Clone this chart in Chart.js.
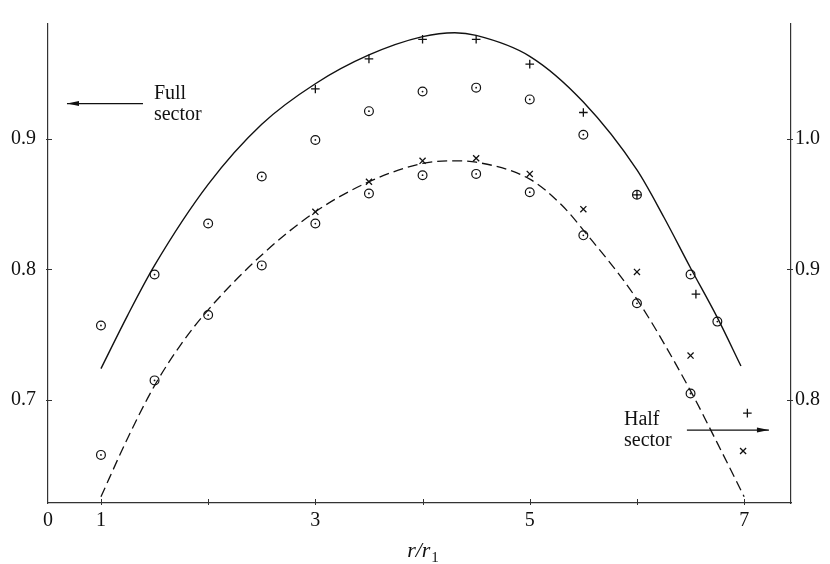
<!DOCTYPE html>
<html>
<head>
<meta charset="utf-8">
<script src="https://cdn.jsdelivr.net/npm/chart.js@4.4.1/dist/chart.umd.min.js"></script>
<style>
  html, body { margin: 0; padding: 0; background: #fff; }
  #wrap { width: 830px; height: 564px; }
</style>
</head>
<body>
<div id="wrap"><canvas id="c" width="830" height="564"></canvas></div>
<script>
// ── Data ───────────────────────────────────────────────────
// full sector, left axis
const fullR      = [1, 1.5, 2, 2.5, 3, 3.5, 4, 4.5, 5, 5.5, 6, 6.5, 6.75];
const fullCirc   = [0.757, 0.796, 0.835, 0.871, 0.899, 0.921, 0.936, 0.939, 0.930, 0.903, 0.857, 0.796, 0.760];
const plusR      = [3, 3.5, 4, 4.5, 5, 5.5, 6, 6.55, 7.03];
const plusVal    = [0.938, 0.961, 0.976, 0.976, 0.957, 0.920, 0.857, 0.781, 0.690];
const fullCurveR = [1, 1.25, 1.5, 2, 2.5, 3, 3.5, 4, 4.3, 4.5, 5, 5.5, 6, 6.25, 6.5, 6.75, 6.97];
const fullCurve  = [0.724, 0.765, 0.803, 0.865, 0.911, 0.942, 0.964, 0.978, 0.981, 0.979, 0.963, 0.928, 0.876, 0.840, 0.801, 0.763, 0.726];

// half sector, right axis
const halfR      = [1, 1.5, 2, 2.5, 3, 3.5, 4, 4.5, 5, 5.5, 6, 6.5];
const halfCirc   = [0.758, 0.815, 0.865, 0.903, 0.935, 0.958, 0.972, 0.973, 0.959, 0.926, 0.874, 0.805];
const crossR     = [3, 3.5, 4, 4.5, 5, 5.5, 6, 6.5, 6.99];
const crossVal   = [0.944, 0.967, 0.983, 0.985, 0.973, 0.946, 0.898, 0.834, 0.761];
const halfCurveR = [1, 1.25, 1.5, 1.75, 2, 2.5, 3, 3.5, 4, 4.3, 4.5, 5, 5.3, 5.5, 6, 6.5, 6.75, 7];
const halfCurve  = [0.726, 0.771, 0.811, 0.843, 0.869, 0.911, 0.944, 0.967, 0.981, 0.983, 0.982, 0.969, 0.949, 0.930, 0.877, 0.807, 0.767, 0.726];

// axes
const xMin = 0.506, xMax = 7.437;
const xTickVals   = [xMin, 1, 2, 3, 4, 5, 6, 7];
const xTickLabels = ['0', '1', '', '3', '', '5', '', '7'];
const leftTicks   = [0.7, 0.8, 0.9];
const rightTicks  = [0.8, 0.9, 1.0];
const yMin = 0.6212, yMax = 0.9877;
const y2Min = 0.7212, y2Max = 1.0877;

// ── Helpers ────────────────────────────────────────────────
const pts = (xs, ys) => xs.map((x, i) => ({ x, y: ys[i] }));
const INK = '#111';
const AXIS = '#333';
const FONT = '"Liberation Serif", "DejaVu Serif", serif';

// centre dot for the ⊙ markers
const centreDots = {
  id: 'centreDots',
  afterDatasetsDraw(chart) {
    const ctx = chart.ctx;
    ctx.save();
    ctx.fillStyle = INK;
    chart.data.datasets.forEach((ds, i) => {
      if (!ds.dotted) return;
      chart.getDatasetMeta(i).data.forEach(el => {
        ctx.beginPath(); ctx.arc(el.x, el.y, 0.9, 0, Math.PI * 2); ctx.fill();
      });
    });
    ctx.restore();
  }
};

// ticks crossing the axis lines, labels, title
const extras = {
  id: 'extras',
  afterDraw(chart) {
    const { ctx, chartArea: a, scales: { x, y, y2 } } = chart;
    ctx.save();
    ctx.strokeStyle = AXIS; ctx.lineWidth = 1;
    const seg = (x1, y1, x2, y2_) => { ctx.beginPath(); ctx.moveTo(x1, y1); ctx.lineTo(x2, y2_); ctx.stroke(); };
    xTickVals.slice(1).forEach(v => {
      const px = Math.round(x.getPixelForValue(v)) + 0.5;
      seg(px, a.bottom - 4, px, a.bottom + 2);
    });
    leftTicks.forEach(v => {
      const py = Math.round(y.getPixelForValue(v)) + 0.5;
      seg(a.left - 2, py, a.left + 4, py);
    });
    rightTicks.forEach(v => {
      const py = Math.round(y2.getPixelForValue(v)) + 0.5;
      seg(a.right - 4, py, a.right + 2, py);
    });

    // annotations
    ctx.fillStyle = INK;
    ctx.font = '20px ' + FONT;
    ctx.textBaseline = 'middle';
    ctx.textAlign = 'left';
    ctx.fillText('Full', x.getPixelForValue(1.494), y.getPixelForValue(0.9342));
    ctx.fillText('sector', x.getPixelForValue(1.494), y.getPixelForValue(0.9186));
    ctx.fillText('Half', x.getPixelForValue(5.879), y.getPixelForValue(0.6851));
    ctx.fillText('sector', x.getPixelForValue(5.879), y.getPixelForValue(0.6688));

    const arrow = (x1, x2, py) => {
      ctx.strokeStyle = INK; ctx.lineWidth = 1.2;
      seg(x1, py, x2, py);
      const d = Math.sign(x2 - x1);
      ctx.beginPath();
      ctx.moveTo(x2, py);
      ctx.lineTo(x2 - d * 12, py - 2.5);
      ctx.lineTo(x2 - d * 12, py + 2.5);
      ctx.closePath();
      ctx.fill();
    };
    arrow(x.getPixelForValue(1.392), x.getPixelForValue(0.683), y.getPixelForValue(0.9268));
    arrow(x.getPixelForValue(6.466), x.getPixelForValue(7.231), y.getPixelForValue(0.677));

    // axis title r/r1
    const cx = (a.left + a.right) / 2 + 3, by = a.bottom + 54;
    ctx.textBaseline = 'alphabetic';
    ctx.font = 'italic 22px ' + FONT;
    const w1 = ctx.measureText('r/r').width;
    ctx.font = '15px ' + FONT;
    const w2 = ctx.measureText('1').width;
    const sx = cx - (w1 + w2) / 2;
    ctx.font = 'italic 22px ' + FONT;
    ctx.fillText('r/r', sx, by);
    ctx.font = '15px ' + FONT;
    ctx.fillText('1', sx + w1 + 1, by + 5);
    ctx.restore();
  }
};

// ── Chart ──────────────────────────────────────────────────
const circleStyle = { pointStyle: 'circle', pointRadius: 4.4, pointBorderWidth: 1.2,
  pointBorderColor: INK, pointBackgroundColor: 'rgba(0,0,0,0)', dotted: true };

new Chart(document.getElementById('c'), {
  type: 'scatter',
  data: {
    datasets: [
      { data: pts(fullCurveR, fullCurve), showLine: true, borderColor: INK, borderWidth: 1.4,
        pointRadius: 0, cubicInterpolationMode: 'monotone', yAxisID: 'y' },
      { data: pts(halfCurveR, halfCurve), showLine: true, borderColor: INK, borderWidth: 1.3,
        borderDash: [10, 5], pointRadius: 0, cubicInterpolationMode: 'monotone', yAxisID: 'y2' },
      { data: pts(fullR, fullCirc), ...circleStyle, yAxisID: 'y' },
      { data: pts(halfR, halfCirc), ...circleStyle, yAxisID: 'y2' },
      { data: pts(plusR, plusVal), pointStyle: 'cross', pointRadius: 4.3, borderColor: INK, borderWidth: 1.3, yAxisID: 'y' },
      { data: pts(crossR, crossVal), pointStyle: 'crossRot', pointRadius: 4.3, borderColor: INK, borderWidth: 1.3, yAxisID: 'y2' }
    ]
  },
  options: {
    responsive: false,
    animation: false,
    layout: { padding: { top: 10 } },
    plugins: { legend: { display: false }, tooltip: { enabled: false } },
    scales: {
      x: {
        type: 'linear', min: xMin, max: xMax,
        afterBuildTicks: s => { s.ticks = xTickVals.map(v => ({ value: v })); },
        afterFit: s => { s.height = 61; },
        ticks: {
          autoSkip: false, maxRotation: 0, padding: 6, color: INK,
          font: { family: FONT, size: 20 },
          callback: (v, i) => xTickLabels[i]
        },
        grid: { display: false, drawTicks: false },
        border: { color: AXIS, width: 1.2 }
      },
      y: {
        position: 'left', min: yMin, max: yMax,
        afterBuildTicks: s => { s.ticks = leftTicks.map(v => ({ value: v })); },
        afterFit: s => { s.width = 48; },
        ticks: { padding: 12, color: INK, font: { family: FONT, size: 20 }, callback: v => v.toFixed(1) },
        grid: { display: false, drawTicks: false },
        border: { color: AXIS, width: 1.2 }
      },
      y2: {
        position: 'right', min: y2Min, max: y2Max,
        afterBuildTicks: s => { s.ticks = rightTicks.map(v => ({ value: v })); },
        afterFit: s => { s.width = 39; },
        ticks: { padding: 4, color: INK, font: { family: FONT, size: 20 }, callback: v => v.toFixed(1) },
        grid: { display: false, drawTicks: false },
        border: { color: AXIS, width: 1.2 }
      }
    }
  },
  plugins: [centreDots, extras]
});
</script>
</body>
</html>
